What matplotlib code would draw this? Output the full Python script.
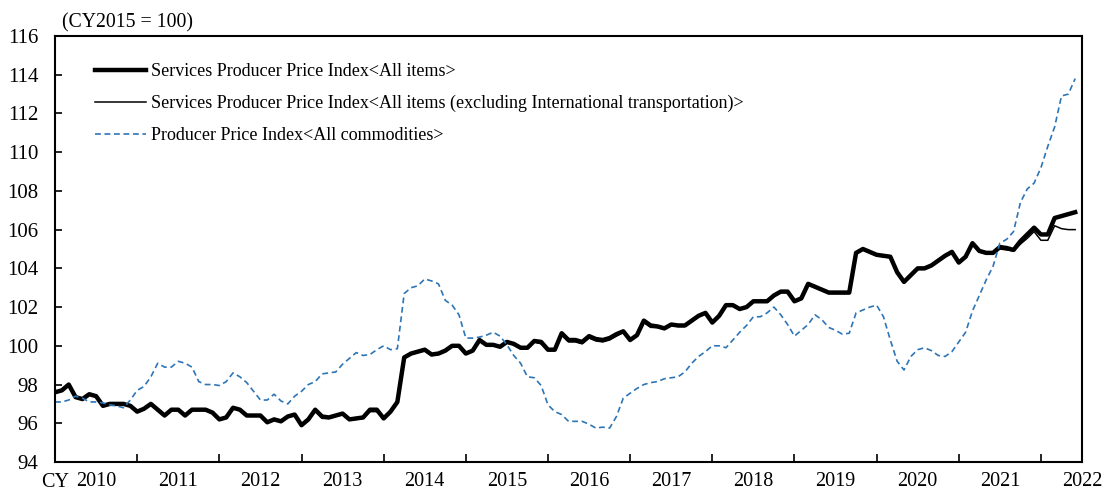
import numpy as np
import matplotlib
import matplotlib.pyplot as plt

matplotlib.use('Agg')
plt.rcParams['font.family'] = ['Liberation Serif', 'DejaVu Serif']

# monthly values, Jan 2010 - Jun 2022 (CY2015 = 100)
sppi_all = [
    97.6, 97.7, 98.0, 97.35, 97.25, 97.5, 97.4, 96.9, 97.0, 97.0, 97.0, 96.9,
    96.6, 96.75, 97.0, 96.7, 96.4, 96.7, 96.7, 96.4, 96.7, 96.7, 96.7, 96.55,
    96.2, 96.3, 96.8, 96.7, 96.4, 96.4, 96.4, 96.05, 96.2, 96.1, 96.35, 96.45,
    95.9, 96.2, 96.7, 96.35, 96.3, 96.4, 96.5, 96.2, 96.25, 96.3, 96.7, 96.7,
    96.25, 96.6, 97.1, 99.4, 99.6, 99.7, 99.8, 99.55, 99.6, 99.75, 100.0, 100.0,
    99.6, 99.75, 100.3, 100.05, 100.05, 99.95, 100.2, 100.1, 99.9, 99.9, 100.25, 100.2,
    99.8, 99.8, 100.65, 100.3, 100.3, 100.2, 100.5, 100.35, 100.3, 100.4, 100.6, 100.75,
    100.3, 100.55, 101.3, 101.05, 101.0, 100.9, 101.1, 101.05, 101.05, 101.3, 101.55, 101.7,
    101.2, 101.55, 102.1, 102.1, 101.9, 102.0, 102.3, 102.3, 102.3, 102.6, 102.8, 102.8,
    102.3, 102.45, 103.2, 103.05, 102.9, 102.75, 102.75, 102.75, 102.75, 104.8, 105.0, 104.85,
    104.7, 104.65, 104.6, 103.8, 103.3, 103.65, 104.0, 104.0, 104.15, 104.4, 104.65, 104.85,
    104.3, 104.6, 105.3, 104.9, 104.8, 104.8, 105.1, 105.05, 104.95, 105.4, 105.75, 106.1,
    105.75, 105.75, 106.6, 106.7, 106.8, 106.9,
]

sppi_ex_intl = [
    97.6, 97.7, 98.0, 97.35, 97.25, 97.5, 97.4, 96.9, 97.0, 97.0, 97.0, 96.9,
    96.6, 96.75, 97.0, 96.7, 96.4, 96.7, 96.7, 96.4, 96.7, 96.7, 96.7, 96.55,
    96.2, 96.3, 96.8, 96.7, 96.4, 96.4, 96.4, 96.05, 96.2, 96.1, 96.35, 96.45,
    95.9, 96.2, 96.65, 96.25, 96.25, 96.35, 96.45, 96.2, 96.2, 96.25, 96.6, 96.6,
    96.25, 96.55, 97.05, 99.35, 99.55, 99.65, 99.75, 99.5, 99.55, 99.7, 99.95, 99.95,
    99.6, 99.7, 100.25, 100.0, 100.0, 99.95, 100.15, 100.05, 99.85, 99.85, 100.2, 100.1,
    99.75, 99.75, 100.55, 100.2, 100.2, 100.1, 100.4, 100.25, 100.2, 100.3, 100.5, 100.7,
    100.3, 100.5, 101.2, 100.95, 100.95, 100.85, 101.05, 101.0, 101.0, 101.25, 101.5, 101.65,
    101.2, 101.5, 102.05, 102.05, 101.9, 102.0, 102.25, 102.25, 102.25, 102.55, 102.75, 102.75,
    102.3, 102.4, 103.15, 103.0, 102.85, 102.7, 102.7, 102.7, 102.7, 104.75, 104.95, 104.8,
    104.65, 104.6, 104.55, 103.75, 103.3, 103.6, 103.95, 103.95, 104.1, 104.35, 104.6, 104.8,
    104.25, 104.55, 105.25, 104.85, 104.75, 104.75, 105.0, 104.95, 104.9, 105.25, 105.55, 105.9,
    105.45, 105.45, 106.2, 106.05, 106.0, 106.0,
]

ppi_all = [
    97.1, 97.1, 97.2, 97.4, 97.3, 97.1, 97.1, 97.05, 96.95, 96.9, 96.8, 97.2,
    97.7, 97.9, 98.4, 99.1, 98.9, 98.9, 99.2, 99.1, 98.9, 98.15, 98.0, 98.0,
    97.95, 98.15, 98.6, 98.4, 98.1, 97.65, 97.2, 97.2, 97.5, 97.15, 97.0, 97.4,
    97.65, 98.0, 98.15, 98.55, 98.6, 98.65, 99.05, 99.35, 99.65, 99.5, 99.55, 99.8,
    100.0, 99.8, 99.85, 102.7, 103.0, 103.1, 103.45, 103.35, 103.2, 102.35, 102.1, 101.6,
    100.4, 100.4, 100.45, 100.55, 100.7, 100.5, 100.05, 99.5, 99.1, 98.4, 98.35, 97.95,
    96.95, 96.6, 96.45, 96.1, 96.1, 96.1, 95.95, 95.75, 95.8, 95.75, 96.35, 97.3,
    97.55, 97.8, 98.0, 98.1, 98.15, 98.3, 98.35, 98.4, 98.65, 99.1, 99.45, 99.7,
    100.0, 100.0, 99.9, 100.3, 100.7, 101.05, 101.5, 101.5, 101.7, 102.0, 101.6, 101.1,
    100.5, 100.8, 101.1, 101.6, 101.35, 100.95, 100.8, 100.6, 100.65, 101.7, 101.85, 102.0,
    102.1, 101.5, 100.3, 99.2, 98.75, 99.45, 99.8, 99.9, 99.75, 99.5, 99.45, 99.7,
    100.2, 100.7, 101.8, 102.6, 103.4, 104.1, 105.3, 105.5, 105.9, 107.4, 108.1, 108.4,
    109.2, 110.3, 111.3, 112.9, 113.0, 113.8,
]

years = ['2010', '2011', '2012', '2013', '2014', '2015', '2016',
         '2017', '2018', '2019', '2020', '2021', '2022']

labels = ['Services Producer Price Index<All items>',
          'Services Producer Price Index<All items (excluding International transportation)>',
          'Producer Price Index<All commodities>']

x = np.arange(len(sppi_all))

fig = plt.figure(figsize=(11.05, 4.93), dpi=100)
ax = fig.add_axes([0.0498, 0.0629, 0.9294, 0.8641])

ax.plot(x, sppi_all, color='black', lw=3.2, label=labels[0], solid_joinstyle='round')
ax.plot(x, sppi_ex_intl, color='black', lw=1.1, label=labels[1])
ax.plot(x, ppi_all, color='#2E75B6', lw=1.2, ls=(0, (3.5, 2.2)), label=labels[2])

ax.set_xlim(0, 150)
ax.set_ylim(94, 116)
ax.set_yticks(np.arange(94, 117, 2))
ax.tick_params(axis='y', direction='in', length=5, width=1.2, pad=12, labelsize=15)

# year boundaries get tick marks, labels sit in the middle of each year
ax.set_xticks(np.arange(0, 150, 12))
ax.set_xticklabels([])
ax.tick_params(axis='x', which='major', direction='in', length=6, width=1.2)
ax.set_xticks(np.arange(6, 151, 12), minor=True)
ax.set_xticklabels(years, minor=True)
ax.tick_params(axis='x', which='minor', length=0, pad=7, labelsize=14.5)

for s in ax.spines.values():
    s.set_linewidth(1.5)

ax.text(0.0, -0.025, 'CY', transform=ax.transAxes, ha='center', va='top', fontsize=14.5)
ax.text(0.007, 1.008, '(CY2015 = 100)', transform=ax.transAxes, ha='left', va='bottom', fontsize=14.2)

ax.legend(loc='upper left', bbox_to_anchor=(0.039, 0.937), frameon=False, fontsize=13,
          handlelength=2.8, handletextpad=0.3, labelspacing=0.83, borderpad=0, borderaxespad=0)

plt.savefig('out.png', dpi=100)
